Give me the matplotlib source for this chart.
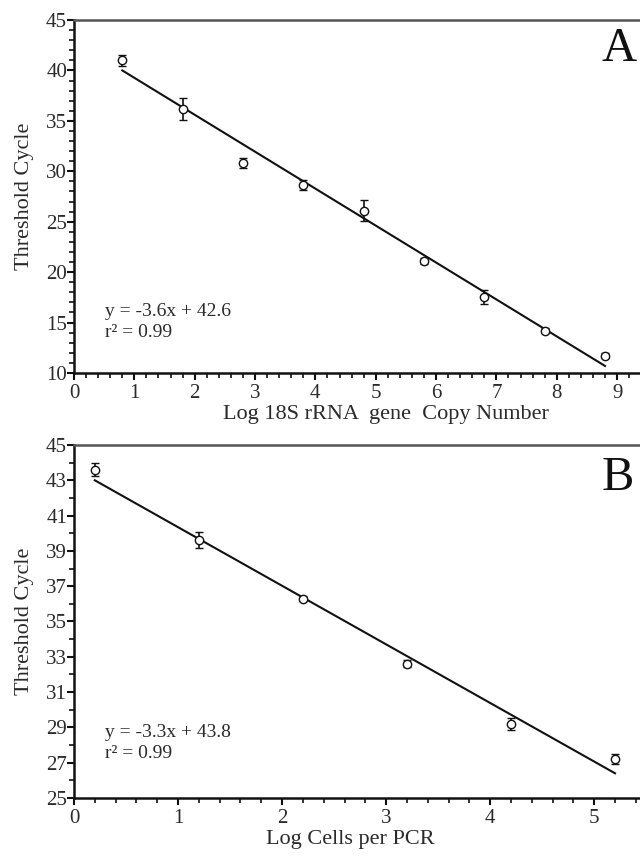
import matplotlib
matplotlib.use("Agg")
import matplotlib.pyplot as plt
from matplotlib.ticker import MultipleLocator

plt.rcParams['font.family'] = ['Liberation Serif', 'DejaVu Serif']

# Panel A data
a_x = [0.8, 1.8, 2.8, 3.8, 4.8, 5.8, 6.8, 7.8, 8.8]
a_y = [41.0, 36.2, 30.8, 28.6, 26.1, 21.1, 17.5, 14.2, 11.7]
a_err = [0.55, 1.1, 0.5, 0.5, 1.05, 0.3, 0.7, 0.25, 0.25]
a_fit_x = [0.8, 8.8]
a_fit_y = [40.0, 10.7]

# Panel B data
b_x = [0.2, 1.2, 2.2, 3.2, 4.2, 5.2]
b_y = [43.6, 39.6, 36.3, 32.6, 29.2, 27.2]
b_err = [0.38, 0.45, 0.15, 0.2, 0.35, 0.3]
b_fit_x = [0.2, 5.2]
b_fit_y = [43.0, 26.4]

TXT = '#2a2a2a'

fig = plt.figure(figsize=(6.4, 8.56), dpi=100)
axA = fig.add_axes([74/640, 1-373/856, 1-74/640, (373-20)/856])
axB = fig.add_axes([74/640, 1-798/856, 1-74/640, (798-445)/856])

def style(ax, xlim, ylim, xmaj, xmin, ymaj, ymin, yoff):
    ax.set_xlim(*xlim)
    ax.set_ylim(*ylim)
    ax.xaxis.set_major_locator(MultipleLocator(xmaj))
    ax.xaxis.set_minor_locator(MultipleLocator(xmin))
    ax.yaxis.set_major_locator(MultipleLocator(ymaj, offset=yoff))
    ax.yaxis.set_minor_locator(MultipleLocator(ymin))
    ax.spines['right'].set_visible(False)
    for s in ['left', 'bottom']:
        ax.spines[s].set_linewidth(1.8)
        ax.spines[s].set_color('#111111')
    ax.spines['top'].set_linewidth(1.8)
    ax.spines['top'].set_color('#555555')
    ax.tick_params(which='both', direction='out', color='#111111', labelcolor=TXT,
                   labelsize=15, top=False, right=False)
    ax.tick_params(which='major', length=5, width=1.5)
    ax.tick_params(which='minor', length=3.5, width=1.2)
    ax.tick_params(axis='y', which='major', pad=0)
    ax.tick_params(axis='x', which='major', pad=3)

style(axA, (0, 9.38), (10, 45), 1, 0.2, 5, 1, 0)
style(axB, (0, 5.44), (25, 45), 1, 0.2, 2, 1, 1)

for ax, x, y, e, fx, fy in [(axA, a_x, a_y, a_err, a_fit_x, a_fit_y),
                            (axB, b_x, b_y, b_err, b_fit_x, b_fit_y)]:
    ax.plot(fx, fy, color='#111111', lw=1.5, zorder=2)
    ax.errorbar(x, y, yerr=e, fmt='o', ms=6, mfc='white', mec='#111111', mew=1.0,
                ecolor='#111111', elinewidth=1.2, capsize=3, capthick=1.2, zorder=3)
    ax.set_ylabel('Threshold Cycle', fontsize=16, color=TXT)
    ax.yaxis.set_label_coords(-0.071, 0.5)

axA.set_xlabel('Log 18S rRNA  gene  Copy Number', fontsize=16, color=TXT)
axA.xaxis.set_label_coords(0.551, -0.09)
axB.set_xlabel('Log Cells per PCR', fontsize=16, color=TXT)
axB.xaxis.set_label_coords(0.488, -0.09)

axA.text(0.51, 16.05, 'y = -3.6x + 42.6', fontsize=14, color=TXT, va='center', ha='left')
axA.text(0.51, 13.97, 'r² = 0.99', fontsize=14, color=TXT, va='center', ha='left')
axB.text(0.3, 28.7, 'y = -3.3x + 43.8', fontsize=14, color=TXT, va='center', ha='left')
axB.text(0.3, 27.5, 'r² = 0.99', fontsize=14, color=TXT, va='center', ha='left')

axA.text(0.963, 0.918, 'A', transform=axA.transAxes, fontsize=35, color='#111111',
         ha='center', va='center')
axB.text(0.96, 0.906, 'B', transform=axB.transAxes, fontsize=35, color='#111111',
         ha='center', va='center')

fig.savefig('out.png', dpi=100)
